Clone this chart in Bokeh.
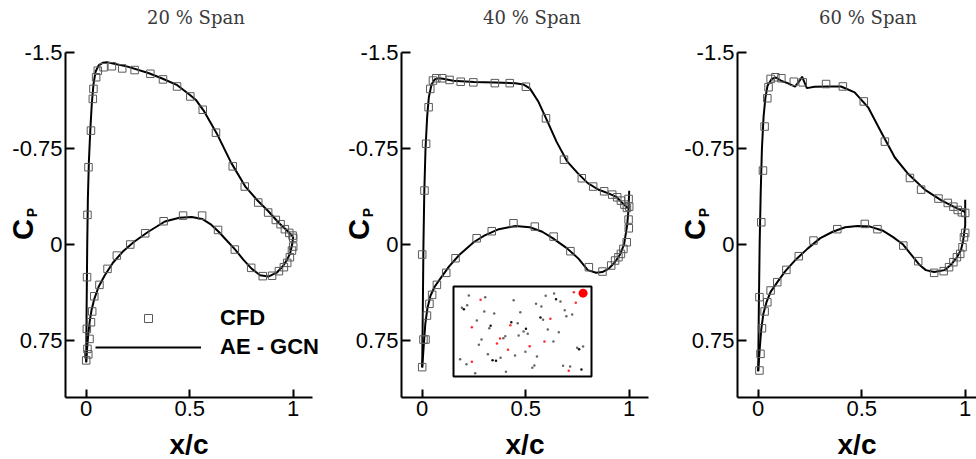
import math
from bokeh.plotting import figure
from bokeh.models import Range1d, FixedTicker, Label, Legend, LegendItem
from bokeh.layouts import row
from bokeh.embed import file_html
from bokeh.resources import INLINE

# ---------------- data ----------------
TITLES = ["20 % Span", "40 % Span", "60 % Span"]
X_TICKS = [0, 0.5, 1]
X_TICK_LABELS = ["0", "0.5", "1"]
Y_TICKS = [-1.5, -0.75, 0, 0.75]
Y_TICK_LABELS = ["-1.5", "-0.75", "0", "0.75"]
X_LABEL = "x/c"
Y_LABEL_MAIN = "C"
Y_LABEL_SUB = "P"
LEGEND_LABELS = ["CFD", "AE - GCN"]

# 20 % span
S20_CFD_UP_X = [0.0, 0.003, 0.004, 0.006, 0.011, 0.023, 0.032, 0.035, 0.048, 0.056, 0.084, 0.124, 0.174, 0.234, 0.310,
                0.371, 0.439, 0.503, 0.563, 0.627, 0.708, 0.766, 0.831, 0.879, 0.916, 0.939, 0.960, 0.981, 0.997]
S20_CFD_UP_CP = [0.905, 0.659, 0.255, -0.232, -0.604, -0.890, -1.138, -1.216, -1.307, -1.358, -1.385, -1.393, -1.376,
                 -1.363, -1.334, -1.290, -1.235, -1.157, -1.053, -0.874, -0.611, -0.453, -0.328, -0.250, -0.192, -0.159,
                 -0.120, -0.091, -0.070]
S20_CFD_LO_X = [0.006, 0.010, 0.016, 0.023, 0.029, 0.039, 0.064, 0.103, 0.148, 0.213, 0.285, 0.374, 0.468, 0.560, 0.637,
                0.718, 0.797, 0.853, 0.898, 0.931, 0.955, 0.971, 0.984, 0.994, 1.0, 1.0]
S20_CFD_LO_CP = [0.815, 0.858, 0.737, 0.607, 0.523, 0.404, 0.315, 0.190, 0.086, 0.0, -0.088, -0.182, -0.226, -0.226,
                 -0.114, 0.039, 0.182, 0.247, 0.244, 0.208, 0.177, 0.143, 0.099, 0.047, 0.016, -0.052]
S20_GCN_UP_X = [0.0, 0.002, 0.005, 0.008, 0.013, 0.02, 0.027, 0.035, 0.045, 0.06, 0.08, 0.1, 0.13, 0.2, 0.3, 0.37, 0.44,
                0.5, 0.53, 0.57, 0.63, 0.7, 0.77, 0.83, 0.88, 0.93, 0.97, 1.0]
S20_GCN_UP_CP = [0.92, 0.5, 0.0, -0.35, -0.65, -0.9, -1.1, -1.25, -1.35, -1.40, -1.42, -1.425, -1.415, -1.39, -1.34,
                 -1.295, -1.245, -1.17, -1.13, -1.04, -0.87, -0.64, -0.45, -0.34, -0.26, -0.17, -0.11, -0.06]
S20_GCN_LO_X = [0.0, 0.005, 0.01, 0.017, 0.026, 0.04, 0.06, 0.09, 0.13, 0.18, 0.23, 0.3, 0.38, 0.45, 0.51, 0.56, 0.6,
                0.64, 0.68, 0.72, 0.76, 0.8, 0.84, 0.88, 0.92, 0.95, 0.97, 0.985, 0.995, 1.0]
S20_GCN_LO_CP = [0.92, 0.8, 0.7, 0.6, 0.51, 0.42, 0.33, 0.24, 0.14, 0.05, -0.02, -0.1, -0.18, -0.21, -0.215, -0.2,
                 -0.16, -0.1, -0.03, 0.04, 0.12, 0.19, 0.24, 0.25, 0.22, 0.17, 0.12, 0.07, 0.0, -0.06]

# 40 % span
S40_CFD_UP_X = [0.0, 0.006, 0.0, 0.011, 0.019, 0.031, 0.039, 0.052, 0.068, 0.097, 0.132, 0.186, 0.247, 0.351, 0.423,
                0.501, 0.598, 0.685, 0.771, 0.826, 0.879, 0.918, 0.942, 0.960, 0.977, 0.989, 0.997, 1.0, 0.997, 0.998]
S40_CFD_UP_CP = [0.958, 0.742, 0.078, -0.422, -0.787, -1.073, -1.216, -1.281, -1.299, -1.299, -1.286, -1.272, -1.267,
                 -1.261, -1.261, -1.233, -0.986, -0.663, -0.518, -0.453, -0.416, -0.390, -0.369, -0.343, -0.312, -0.286,
                 -0.356, -0.296, -0.195, -0.127]
S40_CFD_LO_X = [0.016, 0.023, 0.035, 0.048, 0.071, 0.116, 0.161, 0.263, 0.336, 0.441, 0.544, 0.635, 0.716, 0.805, 0.871,
                0.913, 0.932, 0.948, 0.960, 0.972, 0.988]
S40_CFD_LO_CP = [0.742, 0.555, 0.463, 0.393, 0.315, 0.221, 0.107, -0.049, -0.104, -0.166, -0.140, -0.062, 0.052, 0.177,
                 0.211, 0.164, 0.125, 0.099, 0.073, 0.034, -0.018]
S40_GCN_UP_X = [0.0, 0.003, 0.006, 0.01, 0.016, 0.024, 0.032, 0.045, 0.06, 0.08, 0.1, 0.15, 0.25, 0.35, 0.45, 0.49, 0.52,
                0.56, 0.6, 0.65, 0.7, 0.75, 0.8, 0.85, 0.9, 0.94, 0.97, 0.99, 1.0]
S40_GCN_UP_CP = [0.96, 0.5, 0.0, -0.4, -0.75, -1.0, -1.15, -1.25, -1.29, -1.30, -1.295, -1.28, -1.27, -1.265, -1.26,
                 -1.25, -1.22, -1.12, -0.98, -0.8, -0.65, -0.56, -0.48, -0.43, -0.4, -0.37, -0.32, -0.29, -0.29]
S40_GCN_LO_X = [0.0, 0.007, 0.015, 0.025, 0.04, 0.06, 0.09, 0.13, 0.18, 0.25, 0.3, 0.37, 0.45, 0.52, 0.58, 0.63, 0.7,
                0.755, 0.8, 0.84, 0.87, 0.9, 0.93, 0.955, 0.975, 0.99, 0.997, 1.0]
S40_GCN_LO_CP = [0.96, 0.8, 0.62, 0.5, 0.4, 0.33, 0.26, 0.17, 0.08, -0.02, -0.07, -0.12, -0.145, -0.135, -0.1, -0.05,
                 0.03, 0.11, 0.2, 0.22, 0.215, 0.19, 0.14, 0.08, 0.0, -0.15, -0.28, -0.42]

# 60 % span
S60_CFD_UP_X = [0.006, 0.006, 0.015, 0.023, 0.031, 0.044, 0.050, 0.060, 0.083, 0.112, 0.172, 0.215, 0.328, 0.409, 0.510,
                0.612, 0.733, 0.787, 0.871, 0.916, 0.943, 0.964, 0.984, 1.0]
S60_CFD_UP_CP = [0.984, 0.411, -0.174, -0.578, -0.922, -1.143, -1.229, -1.294, -1.307, -1.299, -1.272, -1.267, -1.254,
                 -1.235, -1.118, -0.804, -0.520, -0.429, -0.359, -0.325, -0.296, -0.270, -0.252, -0.247]
S60_CFD_LO_X = [0.011, 0.018, 0.031, 0.044, 0.060, 0.092, 0.136, 0.196, 0.267, 0.382, 0.515, 0.576, 0.701, 0.773, 0.850,
                0.896, 0.922, 0.943, 0.960, 0.976, 0.987, 0.994, 1.0]
S60_CFD_LO_CP = [0.854, 0.654, 0.523, 0.451, 0.359, 0.294, 0.198, 0.091, -0.031, -0.120, -0.161, -0.120, 0.008, 0.130,
                 0.221, 0.208, 0.177, 0.138, 0.099, 0.073, 0.021, -0.057, -0.091]
S60_GCN_UP_X = [0.0, 0.003, 0.007, 0.012, 0.018, 0.026, 0.035, 0.045, 0.065, 0.085, 0.11, 0.142, 0.178, 0.2, 0.212,
                0.235, 0.272, 0.337, 0.4, 0.466, 0.531, 0.595, 0.66, 0.725, 0.806, 0.887, 0.951, 0.992, 1.0]
S60_GCN_UP_CP = [0.99, 0.5, 0.0, -0.4, -0.75, -1.0, -1.15, -1.24, -1.293, -1.305, -1.28, -1.261, -1.233, -1.28, -1.311,
                 -1.222, -1.233, -1.235, -1.235, -1.189, -1.072, -0.876, -0.68, -0.551, -0.427, -0.343, -0.291, -0.26,
                 -0.25]
S60_GCN_LO_X = [0.0, 0.008, 0.015, 0.025, 0.04, 0.06, 0.09, 0.13, 0.18, 0.24, 0.3, 0.36, 0.42, 0.48, 0.54, 0.6, 0.65,
                0.7, 0.74, 0.78, 0.81, 0.85, 0.9, 0.93, 0.96, 0.98, 0.99, 1.0, 1.0]
S60_GCN_LO_CP = [0.99, 0.8, 0.66, 0.54, 0.45, 0.37, 0.3, 0.21, 0.12, 0.03, -0.05, -0.1, -0.135, -0.145, -0.14, -0.11,
                 -0.06, 0.0, 0.08, 0.16, 0.2, 0.215, 0.2, 0.16, 0.1, 0.04, -0.03, -0.15, -0.35]

# inset point cloud (unit box, u to the right, v downward)
INSET_GRAY_U = [.111, .230, .436, .668, .729, .775, .061, .099, .223, .295, .484, .598, .637, .806, .818, .860, .169,
                .259, .465, .649, .508, .538, .472, .683, .763, .203, .361, .375, .184, .724, .521, .446, .249, .341,
                .605, .048, .094, .157, .380, .586, .571, .794, .845, .896, .939]
INSET_GRAY_V = [.100, .119, .152, .104, .078, .167, .237, .207, .278, .300, .285, .193, .222, .263, .330, .311, .378,
                .463, .407, .370, .500, .526, .544, .478, .507, .589, .574, .552, .648, .611, .726, .767, .752, .793,
                .778, .807, .863, .963, .948, .878, .904, .881, .889, .681, .667]
INSET_BLACK_U = [.743, .075, .269, .419, .630, .525, .283, .308, .910, .927]
INSET_BLACK_V = [.141, .252, .437, .396, .344, .470, .819, .826, .696, .922]
INSET_RED_U = [.196, .872, .886, .133, .412, .702, .337, .315, .395, .552, .659, .133, .835]
INSET_RED_V = [.148, .063, .181, .452, .430, .359, .578, .633, .704, .663, .611, .837, .937]
INSET_MARK_U = [.939]
INSET_MARK_V = [.074]

SPANS = [
    (S20_CFD_UP_X, S20_CFD_UP_CP, S20_CFD_LO_X, S20_CFD_LO_CP, S20_GCN_UP_X, S20_GCN_UP_CP, S20_GCN_LO_X, S20_GCN_LO_CP),
    (S40_CFD_UP_X, S40_CFD_UP_CP, S40_CFD_LO_X, S40_CFD_LO_CP, S40_GCN_UP_X, S40_GCN_UP_CP, S40_GCN_LO_X, S40_GCN_LO_CP),
    (S60_CFD_UP_X, S60_CFD_UP_CP, S60_CFD_LO_X, S60_CFD_LO_CP, S60_GCN_UP_X, S60_GCN_UP_CP, S60_GCN_LO_X, S60_GCN_LO_CP),
]

# ---------------- layout / style ----------------
SANS = "Liberation Sans"
SERIF = "DejaVu Serif"
H = 459
AXIS_PX_X, AXIS_PX_Y = 65, 397        # where the y axis / x axis lines sit inside each panel (pixels)
PX_PER_X, PX_PER_CP = 207.0, 128.0
X_MIN, CP_MIN, CP_MAX = -0.1, -1.5, 1.195
MARKER_COLOR = "#5a5a5a"


def make_panel(idx, width):
    x_start = X_MIN - AXIS_PX_X / PX_PER_X
    x_end = x_start + width / PX_PER_X
    cp_top = CP_MIN - (AXIS_PX_Y - (CP_MAX - CP_MIN) * PX_PER_CP) / PX_PER_CP
    cp_bottom = cp_top + H / PX_PER_CP
    p = figure(width=width, height=H, x_range=Range1d(x_start, x_end), y_range=Range1d(cp_bottom, cp_top),
               output_backend="svg", toolbar_location=None,
               min_border_left=0, min_border_right=0, min_border_top=0, min_border_bottom=0)
    p.outline_line_color = None
    p.grid.visible = False
    p.background_fill_color = "white"
    p.border_fill_color = "white"

    for ax in (p.xaxis[0], p.yaxis[0]):
        ax.axis_line_width = 2
        ax.axis_line_color = "black"
        ax.major_tick_line_width = 2
        ax.major_tick_line_color = "black"
        ax.major_tick_out = 0
        ax.minor_tick_line_color = None
        ax.major_label_text_font = SANS
        ax.major_label_text_font_size = "22px"
        ax.major_label_text_color = "black"
        ax.major_label_standoff = 3

    p.xaxis.fixed_location = CP_MAX
    p.xaxis.bounds = (X_MIN, min(x_end, X_MIN + 247 / PX_PER_X))
    p.xaxis.ticker = FixedTicker(ticks=X_TICKS)
    p.xaxis.major_label_overrides = dict(zip(X_TICKS, X_TICK_LABELS))
    p.xaxis.major_tick_in = 8
    p.xaxis.axis_label = X_LABEL
    p.xaxis.axis_label_text_font = SANS
    p.xaxis.axis_label_text_font_style = "bold"
    p.xaxis.axis_label_text_font_size = "28px"
    p.xaxis.axis_label_text_color = "black"
    p.xaxis.axis_label_standoff = 10

    p.yaxis.fixed_location = X_MIN
    p.yaxis.bounds = (CP_MIN, CP_MAX)
    p.yaxis.ticker = FixedTicker(ticks=Y_TICKS)
    p.yaxis.major_label_overrides = dict(zip(Y_TICKS, Y_TICK_LABELS))
    p.yaxis.major_tick_in = 9

    cux, cuy, clx, cly, gux, guy, glx, gly = SPANS[idx]
    r_line = p.line(gux, guy, line_color="black", line_width=2)
    p.line(glx, gly, line_color="black", line_width=2)
    r_cfd = p.scatter(cux, cuy, marker="square", size=7.5, line_color=MARKER_COLOR, line_width=1, fill_color=None)
    p.scatter(clx, cly, marker="square", size=7.5, line_color=MARKER_COLOR, line_width=1, fill_color=None)

    # panel title
    p.add_layout(Label(x=0.53, y=-1.77, text=TITLES[idx], text_align="center", text_baseline="middle",
                       text_font=SERIF, text_font_size="18px", text_color="#3a3a3a"))
    # y-axis label C_P
    p.add_layout(Label(x=-0.304, y=-0.117, text=Y_LABEL_MAIN, angle=math.pi / 2, text_align="center",
                       text_baseline="middle", text_font=SANS, text_font_style="bold", text_font_size="29px",
                       text_color="black"))
    p.add_layout(Label(x=-0.262, y=-0.25, text=Y_LABEL_SUB, angle=math.pi / 2, text_align="center",
                       text_baseline="middle", text_font=SANS, text_font_style="bold", text_font_size="14px",
                       text_color="black"))
    return p, r_cfd, r_line


W1, W2, W3 = 336, 336, 976 - 2 * 336
p1, cfd1, gcn1 = make_panel(0, W1)
p2, _, _ = make_panel(1, W2)
p3, _, _ = make_panel(2, W3)

legend = Legend(items=[LegendItem(label=LEGEND_LABELS[0], renderers=[cfd1]),
                       LegendItem(label=LEGEND_LABELS[1], renderers=[gcn1])],
                location=(95, 99), orientation="vertical", glyph_width=106, glyph_height=20, label_height=20,
                label_standoff=19, spacing=3, padding=0, margin=0, border_line_alpha=0, background_fill_alpha=0,
                label_text_font=SANS, label_text_font_style="bold", label_text_font_size="22px",
                label_text_color="black")
p1.add_layout(legend, "center")

# inset in the 40 % panel, drawn on its own unit ranges
INS_LEFT, INS_TOP, INS_W, INS_H = 117, 286, 138, 90  # pixels inside the panel
p2.extra_x_ranges = {"ix": Range1d(-INS_LEFT / INS_W, (W2 - INS_LEFT) / INS_W)}
p2.extra_y_ranges = {"iy": Range1d((H - INS_TOP) / INS_H, -INS_TOP / INS_H)}
p2.quad(left=[0], right=[1], top=[0], bottom=[1], x_range_name="ix", y_range_name="iy",
        fill_color="white", line_color="black", line_width=2)
p2.scatter(INSET_GRAY_U, INSET_GRAY_V, x_range_name="ix", y_range_name="iy", marker="circle", size=2.5,
           fill_color="#666666", line_color=None)
p2.scatter(INSET_BLACK_U, INSET_BLACK_V, x_range_name="ix", y_range_name="iy", marker="circle", size=2.5,
           fill_color="#111111", line_color=None)
p2.scatter(INSET_RED_U, INSET_RED_V, x_range_name="ix", y_range_name="iy", marker="circle", size=2.5,
           fill_color="#ff2a2a", line_color=None)
p2.scatter(INSET_MARK_U, INSET_MARK_V, x_range_name="ix", y_range_name="iy", marker="circle", size=9,
           fill_color="#ff0000", line_color=None)

layout = row(p1, p2, p3, spacing=0)
open("out.html", "w").write(file_html(layout, INLINE))
